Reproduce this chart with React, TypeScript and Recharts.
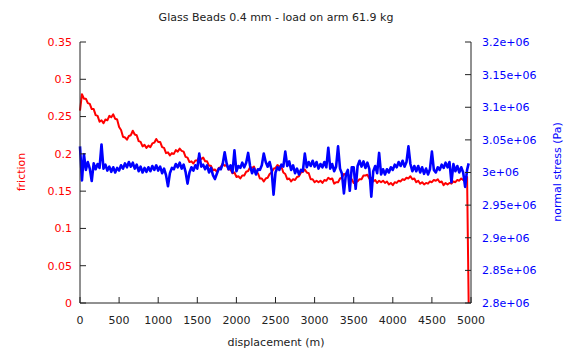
import * as React from "react";
import {Line, LineChart, XAxis, YAxis} from "recharts";

// sampling grid of the record (m); last sample is where the run stops
const STEP = 25;
const displacement: number[] = Array.from({length: 199}, (_, i) => i * STEP).concat([4970]);

const friction: number[] = [
    0.258, 0.280, 0.274, 0.274, 0.268, 0.267, 0.260, 0.260, 0.252, 0.251,
    0.243, 0.245, 0.241, 0.246, 0.245, 0.251, 0.249, 0.253, 0.247, 0.246,
    0.236, 0.232, 0.223, 0.222, 0.219, 0.224, 0.225, 0.231, 0.226, 0.225,
    0.217, 0.216, 0.210, 0.212, 0.208, 0.211, 0.209, 0.214, 0.215, 0.220,
    0.216, 0.216, 0.209, 0.208, 0.201, 0.202, 0.198, 0.201, 0.200, 0.205,
    0.203, 0.207, 0.204, 0.203, 0.196, 0.195, 0.189, 0.190, 0.187, 0.191,
    0.191, 0.196, 0.193, 0.195, 0.190, 0.190, 0.184, 0.184, 0.178, 0.179,
    0.176, 0.181, 0.182, 0.187, 0.184, 0.185, 0.179, 0.179, 0.174, 0.175,
    0.169, 0.170, 0.167, 0.171, 0.171, 0.176, 0.177, 0.182, 0.181, 0.183,
    0.176, 0.174, 0.167, 0.167, 0.163, 0.167, 0.168, 0.173, 0.175, 0.180,
    0.181, 0.185, 0.183, 0.183, 0.175, 0.173, 0.166, 0.167, 0.163, 0.166,
    0.165, 0.169, 0.170, 0.175, 0.176, 0.179, 0.175, 0.174, 0.166, 0.166,
    0.162, 0.164, 0.162, 0.164, 0.161, 0.165, 0.164, 0.168, 0.166, 0.167,
    0.160, 0.162, 0.162, 0.167, 0.168, 0.173, 0.172, 0.174, 0.167, 0.166,
    0.161, 0.164, 0.163, 0.166, 0.166, 0.171, 0.171, 0.172, 0.167, 0.168,
    0.163, 0.165, 0.161, 0.164, 0.162, 0.164, 0.161, 0.163, 0.159, 0.161,
    0.158, 0.162, 0.161, 0.164, 0.163, 0.166, 0.165, 0.168, 0.167, 0.170,
    0.166, 0.167, 0.162, 0.164, 0.160, 0.162, 0.159, 0.161, 0.160, 0.163,
    0.162, 0.165, 0.164, 0.166, 0.162, 0.163, 0.158, 0.161, 0.159, 0.161,
    0.160, 0.163, 0.162, 0.165, 0.164, 0.167, 0.165, 0.168, 0.169, 0,
];

// normal stress in MPa
const stressMPa: number[] = [
    3.040, 2.988, 3.028, 3.004, 3.016, 3.006, 2.987, 3.014, 3.005, 3.013,
    3.007, 3.043, 3.006, 3.012, 3.003, 3.009, 3.001, 3.008, 3.000, 3.007,
    3.003, 3.011, 3.006, 3.014, 3.008, 3.016, 3.009, 3.015, 3.006, 3.012,
    3.002, 3.009, 3.000, 3.007, 3.001, 3.008, 3.002, 3.010, 3.004, 3.011,
    3.003, 3.009, 2.999, 3.006, 2.996, 2.979, 2.999, 3.007, 3.005, 3.013,
    3.008, 3.015, 3.006, 3.012, 3.001, 2.983, 3.000, 3.008, 3.003, 3.011,
    3.006, 3.029, 3.009, 3.012, 3.005, 3.011, 3.000, 3.007, 2.996, 2.990,
    2.998, 3.006, 3.005, 3.013, 3.031, 3.014, 3.005, 3.011, 3.000, 3.034,
    3.002, 3.010, 3.007, 3.015, 3.008, 3.015, 3.030, 3.010, 2.999, 3.006,
    2.997, 3.005, 3.004, 3.011, 3.029, 3.016, 3.009, 3.016, 3.004, 2.966,
    3.000, 3.008, 3.004, 3.012, 3.009, 3.032, 3.010, 3.017, 3.004, 3.011,
    2.999, 3.006, 2.997, 3.004, 3.002, 3.029, 3.008, 3.016, 3.010, 3.018,
    3.009, 3.016, 3.006, 3.013, 3.008, 3.016, 3.008, 3.038, 3.006, 3.013,
    3.002, 3.009, 3.040, 3.006, 2.998, 2.968, 2.997, 3.004, 2.972, 3.008,
    3.008, 2.975, 3.010, 3.018, 3.009, 3.017, 3.007, 3.015, 3.005, 2.963,
    3.002, 3.010, 2.999, 3.030, 2.997, 3.005, 2.997, 3.005, 3.000, 3.008,
    3.004, 3.012, 3.008, 3.016, 3.010, 3.018, 3.009, 3.016, 3.040, 3.013,
    3.002, 3.010, 3.002, 3.010, 3.000, 3.008, 2.998, 3.006, 2.997, 3.005,
    3.032, 3.004, 3.000, 3.008, 3.004, 3.012, 3.007, 3.015, 3.008, 3.016,
    2.985, 3.013, 3.002, 3.010, 3.000, 3.008, 3.000, 2.978, 3.004, 3.014,
];

const xTicks = [0, 500, 1000, 1500, 2000, 2500, 3000, 3500, 4000, 4500, 5000];
const frictionTicks = [0, 0.05, 0.1, 0.15, 0.2, 0.25, 0.3, 0.35];
const stressTicks = [2.8e6, 2.85e6, 2.9e6, 2.95e6, 3e6, 3.05e6, 3.1e6, 3.15e6, 3.2e6];

const rows = displacement.map((d, i) => ({d, friction: friction[i], stress: stressMPa[i] * 1e6}));

const fmtStress = (v: number) => parseFloat((v / 1e6).toFixed(2)) + "e+06";

const FONT = "'DejaVu Sans', sans-serif";
const BORDER = "#222";

export default function App() {
    return (
        <div style={{position: "absolute", left: 0, top: 0, width: 564, height: 349, fontFamily: FONT, background: "#fff"}}>
            <LineChart width={564} height={349} data={rows} margin={{top: 42, right: 0, bottom: 0, left: 0}}>
                <XAxis xAxisId="top" orientation="top" type="number" dataKey="d" domain={[0, 5000]} ticks={xTicks}
                       height={0} tick={false} tickSize={-6} stroke={BORDER}/>
                <XAxis xAxisId="b" type="number" dataKey="d" domain={[0, 5000]} ticks={xTicks} interval={0}
                       height={46} tickSize={-6} tickMargin={19} stroke={BORDER}
                       tick={{fontSize: 11, fill: "#222"}}/>
                <YAxis yAxisId="f" type="number" domain={[0, 0.35]} ticks={frictionTicks} interval={0}
                       width={80} tickSize={-6} tickMargin={14} stroke={BORDER}
                       tick={{fontSize: 11, fill: "#ff0000"}}/>
                <YAxis yAxisId="s" orientation="right" type="number" domain={[2.8e6, 3.2e6]} ticks={stressTicks}
                       interval={0} width={93} tickSize={-6} tickMargin={17} stroke={BORDER}
                       tickFormatter={fmtStress} tick={{fontSize: 11, fill: "#0000ff"}}/>
                <Line xAxisId="b" yAxisId="f" dataKey="friction" type="linear" dot={false} stroke="#ff0000"
                      strokeWidth={2} strokeLinejoin="round" isAnimationActive={false}/>
                <Line xAxisId="b" yAxisId="s" dataKey="stress" type="linear" dot={false} stroke="#0000ff"
                      strokeWidth={2.6} strokeLinejoin="round" isAnimationActive={false}/>
            </LineChart>
            <div style={{position: "absolute", left: 276, top: 17, transform: "translate(-50%,-50%)", fontSize: 11,
                color: "#222", whiteSpace: "nowrap"}}>
                Glass Beads 0.4 mm - load on arm 61.9 kg
            </div>
            <div style={{position: "absolute", left: 276, top: 342, transform: "translate(-50%,-50%)", fontSize: 11,
                color: "#222", whiteSpace: "nowrap"}}>
                displacement (m)
            </div>
            <div style={{position: "absolute", left: 21, top: 172, transform: "translate(-50%,-50%) rotate(-90deg)",
                fontSize: 11, color: "#ff0000", whiteSpace: "nowrap"}}>
                friction
            </div>
            <div style={{position: "absolute", left: 557, top: 172, transform: "translate(-50%,-50%) rotate(-90deg)",
                fontSize: 11, color: "#0000ff", whiteSpace: "nowrap"}}>
                normal stress (Pa)
            </div>
        </div>
    );
}
